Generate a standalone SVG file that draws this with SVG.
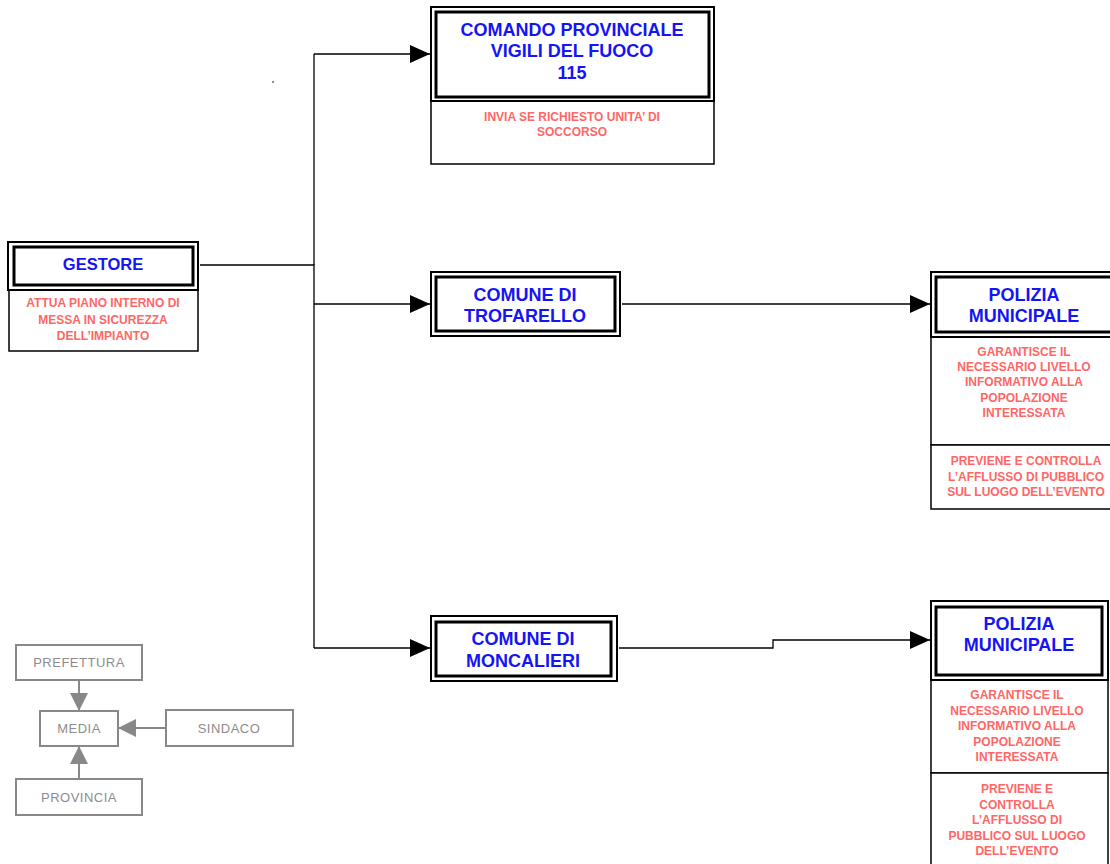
<svg xmlns="http://www.w3.org/2000/svg" width="1110" height="864" viewBox="0 0 1110 864">
<style>
.o{fill:#fff;stroke:#000;stroke-width:2}
.i{fill:#fff;stroke:#000;stroke-width:3}
.d{fill:#fff;stroke:#000;stroke-width:1.5}
.h{font-family:"Liberation Sans",Arial,sans-serif;font-weight:bold;font-size:18px;fill:#1414f5;text-anchor:middle}
.r{font-family:"Liberation Sans",Arial,sans-serif;font-weight:bold;font-size:12px;fill:#ff6666;text-anchor:middle}
.g{fill:#fff;stroke:#888;stroke-width:2}
.gt{font-family:"Liberation Sans",Arial,sans-serif;font-size:13px;fill:#8c8c8c;text-anchor:middle;letter-spacing:0.5px}
.c{fill:none;stroke:#000;stroke-width:1.3}
.gc{fill:none;stroke:#888;stroke-width:2}
</style>
<defs>
<marker id="a" viewBox="0 0 20 18" refX="20" refY="9" markerWidth="20" markerHeight="18" markerUnits="userSpaceOnUse" orient="auto">
<path d="M0,0 L20,9 L0,18 Z" fill="#000"/>
</marker>
<marker id="ga" viewBox="0 0 18 18" refX="18" refY="9" markerWidth="18" markerHeight="18" markerUnits="userSpaceOnUse" orient="auto">
<path d="M0,0 L18,9 L0,18 Z" fill="#888"/>
</marker>
</defs>
<rect width="1110" height="864" fill="#fff"/>
<g id="connectors">
<path class="c" d="M200,265 H314 V648"/>
<path class="c" d="M314,54 V265"/>
<path class="c" d="M314,54 H430" marker-end="url(#a)"/>
<path class="c" d="M314,304 H430" marker-end="url(#a)"/>
<path class="c" d="M314,648 H430" marker-end="url(#a)"/>
<path class="c" d="M622,304 H930" marker-end="url(#a)"/>
<path class="c" d="M619,648 H773 V640 H930" marker-end="url(#a)"/>
<path class="gc" d="M79,680 V711" marker-end="url(#ga)"/>
<path class="gc" d="M166,728 H118" marker-end="url(#ga)"/>
<path class="gc" d="M79,779 V746" marker-end="url(#ga)"/>
</g>
<g id="gestore">
<rect class="d" x="9" y="290" width="189" height="61"/>
<rect class="o" x="8" y="242" width="190" height="48"/>
<rect class="i" x="14" y="247" width="179" height="38"/>
<text class="h" x="103" y="270" style="font-size:16.5px">GESTORE</text>
<text class="r" x="103" y="307">ATTUA PIANO INTERNO DI</text>
<text class="r" x="103" y="324">MESSA IN SICUREZZA</text>
<text class="r" x="103" y="340">DELL’IMPIANTO</text>
</g>
<g id="comando">
<rect class="d" x="431" y="101" width="283" height="63"/>
<rect class="o" x="431" y="7" width="283" height="94"/>
<rect class="i" x="436" y="12" width="273" height="85"/>
<text class="h" x="572" y="36">COMANDO PROVINCIALE</text>
<text class="h" x="572" y="57">VIGILI DEL FUOCO</text>
<text class="h" x="572" y="79">115</text>
<text class="r" x="572" y="121">INVIA SE RICHIESTO UNITA’ DI</text>
<text class="r" x="572" y="136">SOCCORSO</text>
</g>
<g id="trofarello">
<rect class="o" x="431" y="272" width="189" height="64"/>
<rect class="i" x="436" y="277" width="179" height="54"/>
<text class="h" x="525" y="301">COMUNE DI</text>
<text class="h" x="525" y="322">TROFARELLO</text>
</g>
<g id="polizia1">
<rect class="d" x="931" y="337" width="185" height="108"/>
<rect class="d" x="931" y="445" width="185" height="64"/>
<rect class="o" x="931" y="272" width="185" height="65"/>
<rect class="i" x="936" y="277" width="180" height="55"/>
<text class="h" x="1024" y="301">POLIZIA</text>
<text class="h" x="1024" y="322">MUNICIPALE</text>
<text class="r" x="1024" y="356">GARANTISCE IL</text>
<text class="r" x="1024" y="371">NECESSARIO LIVELLO</text>
<text class="r" x="1024" y="386">INFORMATIVO ALLA</text>
<text class="r" x="1024" y="402">POPOLAZIONE</text>
<text class="r" x="1024" y="417">INTERESSATA</text>
<text class="r" x="1026" y="465">PREVIENE E CONTROLLA</text>
<text class="r" x="1026" y="481">L’AFFLUSSO DI PUBBLICO</text>
<text class="r" x="1026" y="496">SUL LUOGO DELL’EVENTO</text>
</g>
<g id="moncalieri">
<rect class="o" x="431" y="616" width="186" height="65"/>
<rect class="i" x="436" y="622" width="175" height="54"/>
<text class="h" x="523" y="645">COMUNE DI</text>
<text class="h" x="523" y="667">MONCALIERI</text>
</g>
<g id="polizia2">
<rect class="d" x="931" y="680" width="177" height="93"/>
<rect class="d" x="931" y="773" width="177" height="95"/>
<rect class="o" x="931" y="601" width="177" height="79"/>
<rect class="i" x="936" y="607" width="166" height="68"/>
<text class="h" x="1019" y="630">POLIZIA</text>
<text class="h" x="1019" y="651">MUNICIPALE</text>
<text class="r" x="1017" y="699">GARANTISCE IL</text>
<text class="r" x="1017" y="715">NECESSARIO LIVELLO</text>
<text class="r" x="1017" y="730">INFORMATIVO ALLA</text>
<text class="r" x="1017" y="746">POPOLAZIONE</text>
<text class="r" x="1017" y="761">INTERESSATA</text>
<text class="r" x="1017" y="793">PREVIENE E</text>
<text class="r" x="1017" y="809">CONTROLLA</text>
<text class="r" x="1017" y="824">L’AFFLUSSO DI</text>
<text class="r" x="1017" y="840">PUBBLICO SUL LUOGO</text>
<text class="r" x="1017" y="855">DELL’EVENTO</text>
</g>
<g id="prefettura">
<rect class="g" x="16" y="645" width="126" height="35"/>
<text class="gt" x="79" y="667">PREFETTURA</text>
</g>
<g id="media">
<rect class="g" x="40" y="711" width="78" height="35"/>
<text class="gt" x="79" y="733">MEDIA</text>
</g>
<g id="sindaco">
<rect class="g" x="166" y="710" width="127" height="36"/>
<text class="gt" x="229" y="733">SINDACO</text>
</g>
<g id="provincia">
<rect class="g" x="16" y="779" width="126" height="36"/>
<text class="gt" x="79" y="802">PROVINCIA</text>
</g>
<circle cx="273" cy="82" r="0.8" fill="#000"/>
</svg>
